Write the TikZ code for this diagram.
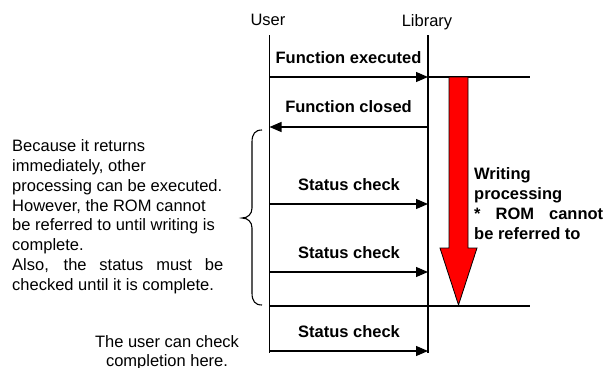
\documentclass[tikz,border=0pt]{standalone}
\usepackage{fontspec}
\setmainfont{Liberation Sans}
\usetikzlibrary{arrows.meta}
\begin{document}
\begin{tikzpicture}[x=1pt,y=-1pt,
  every node/.style={font=\fontsize{16.5}{19.8}\selectfont, inner sep=0pt},
  lifeline/.style={line width=1.2pt},
  msg/.style={line width=1.2pt, -{Triangle[length=12pt,width=10pt]}},
  rule/.style={line width=1.2pt},
  msglabel/.style={font=\fontsize{16.5}{19.8}\selectfont\bfseries},
  bigarrow/.style={fill=red, draw=black, line width=0.8pt},
  bracestyle/.style={line width=1.1pt}]
\useasboundingbox (0,0) rectangle (605,367);
% headings
\node (user) at (268,20) {User};
\node (lib) at (427,22) {Library};
% lifelines
\coordinate (u0) at (269.5,35); \coordinate (u1) at (269.5,353);
\coordinate (l0) at (428,35); \coordinate (l1) at (428,353);
\draw[lifeline] (u0) -- (u1);
\draw[lifeline] (l0) -- (l1);
% messages
\coordinate (m1u) at (269.5,77); \coordinate (m1l) at (428,77); \coordinate (m1r) at (530,77);
\coordinate (m2u) at (269.5,127); \coordinate (m2l) at (428,127);
\coordinate (m3u) at (269.5,204); \coordinate (m3l) at (428,204);
\coordinate (m4u) at (269.5,272); \coordinate (m4l) at (428,272);
\coordinate (hu) at (269.5,306); \coordinate (hr) at (530,306);
\coordinate (m5u) at (269.5,351); \coordinate (m5l) at (428,351);
\draw[msg] (m1u) -- (m1l);
\draw[rule] (m1l) -- (m1r);
\draw[msg] (m2l) -- (m2u);
\draw[msg] (m3u) -- (m3l);
\draw[msg] (m4u) -- (m4l);
\draw[rule] (hu) -- (hr);
\draw[msg] (m5u) -- (m5l);
\node[msglabel] (t1) at (348.5,58) {Function executed};
\node[msglabel] (t2) at (348.5,107) {Function closed};
\node[msglabel] (t3) at (349,185) {Status check};
\node[msglabel] (t4) at (349,253) {Status check};
\node[msglabel] (t5) at (349,332) {Status check};
% big red arrow
\draw[bigarrow] (449,77) -- (468,77) -- (468,248) -- (477,248) -- (458.5,305) -- (440,248) -- (449,248) -- cycle;
\node[font=\fontsize{16.5}{19.8}\selectfont\bfseries, align=left, anchor=north west] (wp) at (474,167.5)
  {Writing\\processing\\\makebox[129pt][s]{* ROM cannot}\\be referred to};
% brace
\draw[bracestyle] (262,130) .. controls (255,130) and (252,134) .. (252,142) -- (252,208)
  .. controls (252,214) and (248,218) .. (242,218)
  .. controls (248,218) and (252,222) .. (252,228) -- (252,293)
  .. controls (252,301) and (255,305) .. (262,305);
% left explanation
\node[align=left, anchor=north west] (expl) at (12,139.5)
  {Because it returns\\immediately, other\\processing can be executed.\\However, the ROM cannot\\be referred to until writing is\\complete.\\\makebox[211pt][s]{Also, the status must be}\\checked until it is complete.};
% bottom note
\node[align=center, anchor=north] (note) at (167,335) {The user can check\\completion here.};
\end{tikzpicture}
\end{document}
